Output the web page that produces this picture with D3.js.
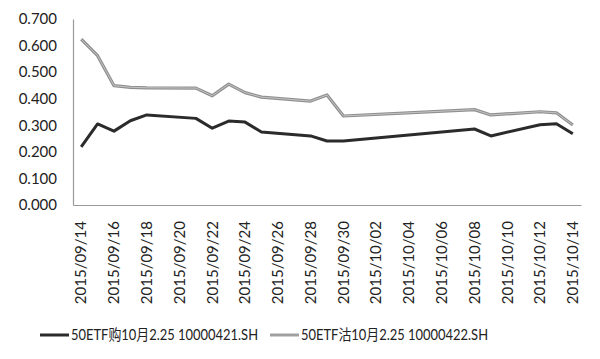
<!DOCTYPE html>
<html><head><meta charset="utf-8">
<script src="https://cdn.jsdelivr.net/npm/d3@7"></script>
<style>body{margin:0;background:#fff}svg{display:block}text{font-family:Lato,"Noto Sans CJK SC",sans-serif;fill:#222}</style>
</head><body>
<script>
const dates = ["2015-09-14","2015-09-15","2015-09-16","2015-09-17","2015-09-18",
  "2015-09-21","2015-09-22","2015-09-23","2015-09-24","2015-09-25",
  "2015-09-28","2015-09-29","2015-09-30",
  "2015-10-08","2015-10-09","2015-10-12","2015-10-13","2015-10-14"];
const callValues = [0.219,0.305,0.278,0.317,0.339,0.326,0.289,0.316,0.312,0.275,0.260,0.241,0.241,0.286,0.260,0.302,0.306,0.268];
const putValues  = [0.624,0.562,0.449,0.443,0.441,0.440,0.411,0.455,0.423,0.406,0.391,0.414,0.335,0.359,0.339,0.351,0.347,0.301];
const yTicks = [0,0.1,0.2,0.3,0.4,0.5,0.6,0.7];
const seriesNames = ["50ETF购10月2.25 10000421.SH","50ETF沽10月2.25 10000422.SH"];

const W=600,H=359;
const svg=d3.select("body").append("svg").attr("width",W).attr("height",H);
const parse=d3.utcParse("%Y-%m-%d");
const fmt=d3.utcFormat("%Y/%m/%d");
const start=parse("2015-09-14"), end=parse("2015-10-15");
const allDays=d3.utcDay.range(start,end);
const labelDays=allDays.filter((d,i)=>i%2===0);
const x=d3.scaleBand().domain(allDays.map(d=>+d)).range([73,581]).padding(0);
const xc=d=>x(+d)+x.bandwidth()/2;
const y=d3.scaleLinear().domain([0,0.7]).range([205,19]);

// axes
const yAxis=svg.append("g").attr("transform","translate(73,0)")
  .call(d3.axisLeft(y).tickValues(yTicks).tickFormat(d3.format(".3f")).tickSize(0).tickPadding(16));
yAxis.select(".domain").attr("stroke","#999").attr("stroke-width",1.2);
yAxis.selectAll("text").style("font-size","15px").attr("fill","#222");

const xAxis=svg.append("g").attr("transform","translate(0,205)")
  .call(d3.axisBottom(x).tickValues(labelDays.map(d=>+d)).tickFormat(d=>fmt(new Date(d))).tickSize(0));
xAxis.select(".domain").attr("stroke","#999").attr("stroke-width",1.2);
xAxis.selectAll("text").style("font-size","15px").attr("fill","#222")
  .attr("transform","rotate(-90)").attr("text-anchor","end")
  .attr("x",-16).attr("y",0).attr("dy","0.35em");

const line=d3.line().x((d,i)=>xc(parse(dates[i]))).y(d=>y(d));
// put series (gray double-tone)
svg.append("path").datum(putValues).attr("d",line).attr("fill","none")
  .attr("stroke","#8f8f8f").attr("stroke-width",3.2).attr("stroke-linejoin","round");
svg.append("path").datum(putValues).attr("d",line).attr("fill","none")
  .attr("stroke","#c4c4c4").attr("stroke-width",1).attr("stroke-linejoin","round");
// call series
svg.append("path").datum(callValues).attr("d",line).attr("fill","none")
  .attr("stroke","#2b2b2b").attr("stroke-width",3).attr("stroke-linejoin","round");

// legend
const lg=svg.append("g");
const items=[{name:seriesNames[0],x:40,c:"#2b2b2b"},{name:seriesNames[1],x:270,c:"#a0a0a0"}];
items.forEach(it=>{
  lg.append("line").attr("x1",it.x).attr("x2",it.x+29).attr("y1",335).attr("y2",335)
    .attr("stroke",it.c).attr("stroke-width",3);
  lg.append("text").attr("x",it.x+31).attr("y",335).attr("dy","0.35em")
    .style("font-size","15px").attr("textLength",187).attr("lengthAdjust","spacingAndGlyphs")
    .text(it.name);
});
</script>
</body></html>
